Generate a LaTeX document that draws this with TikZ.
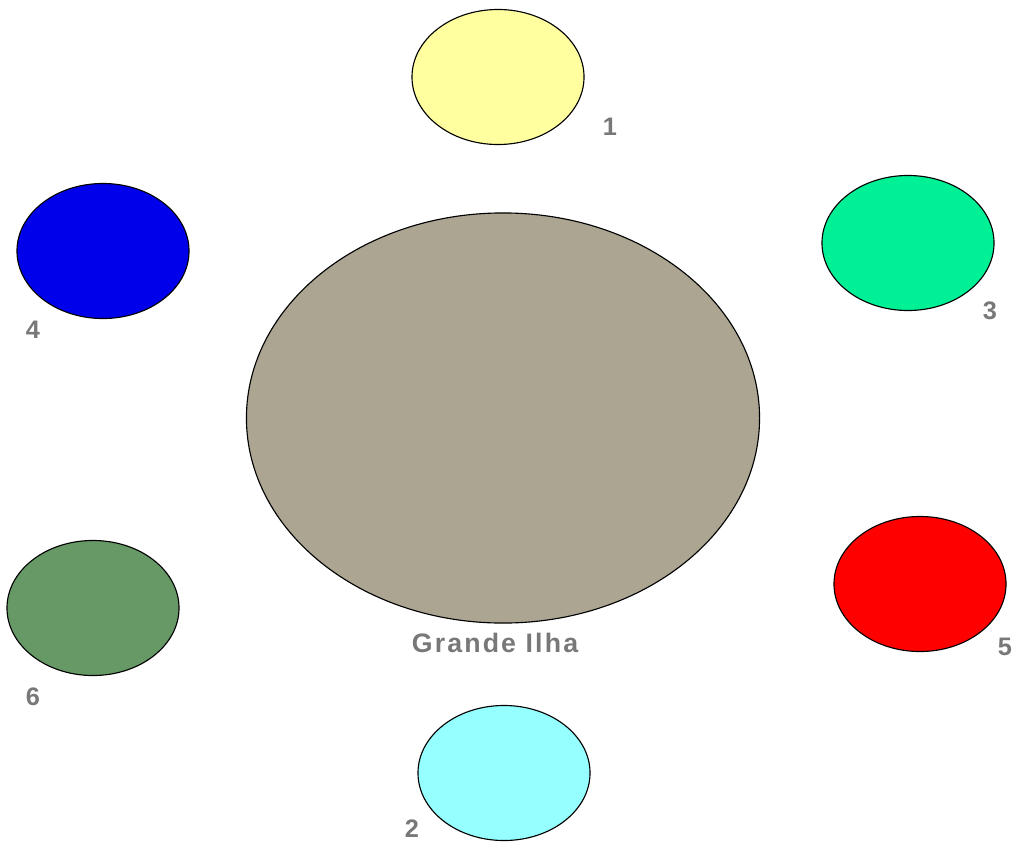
\documentclass[tikz,border=0pt]{standalone}
\usepackage{fontspec}
\setmainfont{Liberation Sans}
\usetikzlibrary{positioning,shapes.geometric}
\definecolor{ilhacor}{RGB}{171,165,145}
\definecolor{amarelo}{RGB}{255,255,160}
\definecolor{verdeclaro}{RGB}{0,240,150}
\definecolor{azul}{RGB}{0,0,235}
\definecolor{verdeescuro}{RGB}{102,153,102}
\definecolor{vermelho}{RGB}{255,0,0}
\definecolor{ciano}{RGB}{150,255,255}
\definecolor{cinza}{RGB}{120,120,120}
\tikzset{ilha/.style={ellipse, draw=black, line width=0.8pt, minimum width=4.3cm, minimum height=3.375cm, inner sep=0pt},
       rotulo/.style={text=cinza, font=\bfseries\fontsize{18}{20}\selectfont, inner sep=0pt}}

\begin{document}
\begin{tikzpicture}[x=0.025cm, y=-0.025cm]
\useasboundingbox (0,0) rectangle (1019,848);
\node [ilha, fill=ilhacor, minimum width=12.825cm, minimum height=10.25cm] (grande) at (503,418) {};
\node [rotulo, font=\bfseries\fontsize{19}{22}\selectfont\addfontfeatures{LetterSpace=8}] (lgrande) at (495,643) {Grande Ilha};
\node [ilha, fill=amarelo] (i1) at (498,77) {};
\node [rotulo] (l1) at (610,127) {1};
\node [ilha, fill=ciano] (i2) at (504,773) {};
\node [rotulo] (l2) at (412,829) {2};
\node [ilha, fill=verdeclaro] (i3) at (908,243) {};
\node [rotulo] (l3) at (990,311) {3};
\node [ilha, fill=azul] (i4) at (103,251) {};
\node [rotulo] (l4) at (33,330) {4};
\node [ilha, fill=vermelho] (i5) at (920,584) {};
\node [rotulo] (l5) at (1005,647) {5};
\node [ilha, fill=verdeescuro] (i6) at (93,608) {};
\node [rotulo] (l6) at (33,697) {6};
\end{tikzpicture}
\end{document}
